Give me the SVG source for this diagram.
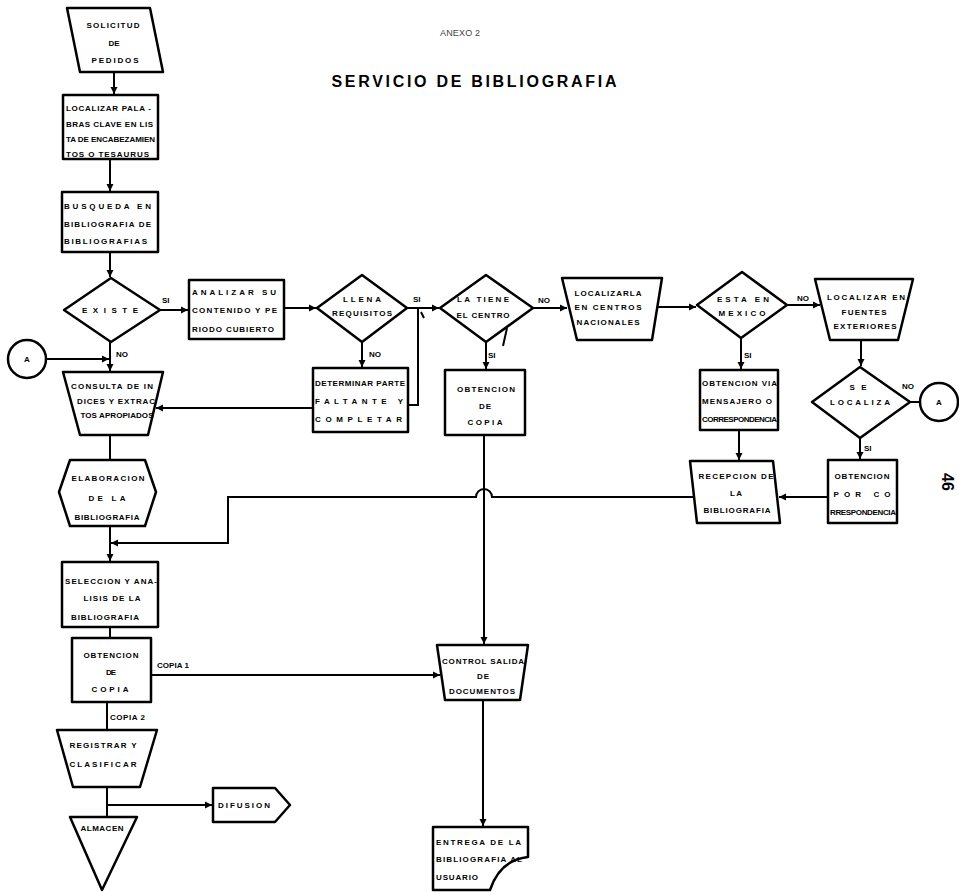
<svg xmlns="http://www.w3.org/2000/svg" width="959" height="892" viewBox="0 0 959 892">
<style>
.s{fill:#fff;stroke:#000;stroke-width:2.5;stroke-linejoin:round}
.c{fill:none;stroke:#000;stroke-width:2}
text{font-family:"Liberation Sans",Arial,sans-serif;font-weight:bold;font-size:8px;fill:#000}
.m{text-anchor:middle}
</style>
<defs>
<marker id="ar" markerWidth="8" markerHeight="8" refX="7" refY="4" orient="auto" markerUnits="userSpaceOnUse">
<path d="M0,0.5 L7,4 L0,7.5 Z" fill="#000"/>
</marker>
</defs>
<rect width="959" height="892" fill="#fff"/>
<text x="460" y="36" class="m" style="font-size:9px;font-weight:normal;fill:#444" textLength="40">ANEXO 2</text>
<text x="474" y="87" class="m" style="font-size:16px;font-weight:bold" textLength="285" lengthAdjust="spacing">SERVICIO DE BIBLIOGRAFIA</text>
<text x="0" y="0" class="m" transform="translate(942,482) rotate(90)" style="font-size:16px">46</text>

<g id="connectors">
<path class="c" d="M114,72 V94" marker-end="url(#ar)"/>
<path class="c" d="M110,160 V191" marker-end="url(#ar)"/>
<path class="c" d="M110,252 V277" marker-end="url(#ar)"/>
<path class="c" d="M160,310 H188" marker-end="url(#ar)"/>
<path class="c" d="M284,308 H316" marker-end="url(#ar)"/>
<path class="c" d="M407,308 H439" marker-end="url(#ar)"/>
<path class="c" d="M408,405 H418 V308"/>
<path class="c" d="M533,308 H567" marker-end="url(#ar)"/>
<path class="c" d="M657,307 H696" marker-end="url(#ar)"/>
<path class="c" d="M787,305 H820" marker-end="url(#ar)"/>
<path class="c" d="M861,340 V366" marker-end="url(#ar)"/>
<path class="c" d="M910,402 H920"/>
<path class="c" d="M860,438 V459" marker-end="url(#ar)"/>
<path class="c" d="M828,497 H779" marker-end="url(#ar)"/>
<path class="c" d="M694,497 H492 A8,8 0 0 0 476,497 H228 V543 H111" marker-end="url(#ar)"/>
<path class="c" d="M741,338 V369" marker-end="url(#ar)"/>
<path class="c" d="M739,430 V460" marker-end="url(#ar)"/>
<path class="c" d="M362,342 V367" marker-end="url(#ar)"/>
<path class="c" d="M486,342 V369" marker-end="url(#ar)"/>
<path class="c" d="M507,328 L503,346"/>
<path class="c" d="M421,312 L424,318"/>
<path class="c" d="M484,435 V644" marker-end="url(#ar)"/>
<path class="c" d="M46,359 H109" marker-end="url(#ar)"/>
<path class="c" d="M110,342 V371" marker-end="url(#ar)"/>
<path class="c" d="M313,408 H156" marker-end="url(#ar)"/>
<path class="c" d="M110,435 V460"/>
<path class="c" d="M110,525 V561" marker-end="url(#ar)"/>
<path class="c" d="M110,627 V638"/>
<path class="c" d="M151,675 H440" marker-end="url(#ar)"/>
<path class="c" d="M483,700 V826" marker-end="url(#ar)"/>
<path class="c" d="M107,702 V730"/>
<path class="c" d="M107,787 V817"/>
<path class="c" d="M107,805 H212" marker-end="url(#ar)"/>
<text x="162" y="303">SI</text>
<text x="413" y="302">SI</text>
<text x="369" y="357">NO</text>
<text x="538" y="303">NO</text>
<text x="488" y="358">SI</text>
<text x="797" y="301">NO</text>
<text x="744" y="358">SI</text>
<text x="902" y="389">NO</text>
<text x="864" y="451">SI</text>
<text x="116" y="357">NO</text>
<text x="157" y="668" textLength="32">COPIA 1</text>
<text x="110" y="720" textLength="35">COPIA 2</text>
</g>

<g id="solicitud">
<polygon class="s" points="67,8 150,8 163,72 80,72"/>
<text x="113" y="28" class="m" textLength="53">SOLICITUD</text>
<text x="114" y="46" class="m" textLength="11">DE</text>
<text x="115" y="63" class="m" textLength="47">PEDIDOS</text>
</g>
<g id="localizar">
<rect class="s" x="63" y="95" width="95" height="64"/>
<text x="66" y="111" textLength="85">LOCALIZAR PALA -</text>
<text x="66" y="127" textLength="87">BRAS CLAVE EN LIS</text>
<text x="66" y="142" textLength="89">TA DE ENCABEZAMIEN</text>
<text x="66" y="157" textLength="83">TOS O TESAURUS</text>
</g>
<g id="busqueda">
<rect class="s" x="62" y="192" width="96" height="60"/>
<text x="64" y="209" textLength="87">BUSQUEDA EN</text>
<text x="64" y="227" textLength="87">BIBLIOGRAFIA DE</text>
<text x="64" y="244" textLength="83">BIBLIOGRAFIAS</text>
</g>
<g id="existe">
<polygon class="s" points="111,278 160,310 111,342 64,310"/>
<text x="110" y="313" class="m" textLength="56">EXISTE</text>
</g>
<g id="analizar">
<rect class="s" x="189" y="280" width="95" height="59"/>
<text x="192" y="295" textLength="84">ANALIZAR SU</text>
<text x="192" y="313" textLength="85">CONTENIDO Y PE</text>
<text x="192" y="332" textLength="82">RIODO CUBIERTO</text>
</g>
<g id="llena">
<polygon class="s" points="362,275 407,308 362,342 317,308"/>
<text x="362" y="302" class="m" textLength="38">LLENA</text>
<text x="362" y="316" class="m" textLength="60">REQUISITOS</text>
</g>
<g id="latiene">
<polygon class="s" points="486,275 533,308 486,342 440,308"/>
<text x="483" y="302" class="m" textLength="52">LA TIENE</text>
<text x="483" y="318" class="m" textLength="53">EL CENTRO</text>
</g>
<g id="localizarla">
<polygon class="s" points="562,278 662,278 652,340 577,340"/>
<text x="608" y="296" class="m" textLength="67">LOCALIZARLA</text>
<text x="608" y="310" class="m" textLength="67">EN CENTROS</text>
<text x="608" y="325" class="m" textLength="63">NACIONALES</text>
</g>
<g id="mexico">
<polygon class="s" points="742,272 787,305 741,338 697,305"/>
<text x="743" y="302" class="m" textLength="52">ESTA EN</text>
<text x="742" y="316" class="m" textLength="47">MEXICO</text>
</g>
<g id="fuentes">
<polygon class="s" points="815,279 913,279 898,340 830,340"/>
<text x="866" y="300" class="m" textLength="78">LOCALIZAR EN</text>
<text x="864" y="315" class="m" textLength="45">FUENTES</text>
<text x="865" y="329" class="m" textLength="63">EXTERIORES</text>
</g>
<g id="selocaliza">
<polygon class="s" points="860,367 910,402 860,438 812,402"/>
<text x="858" y="390" class="m" textLength="17">SE</text>
<text x="860" y="405" class="m" textLength="60">LOCALIZA</text>
</g>
<g id="a2">
<circle class="s" cx="939" cy="402" r="19"/>
<text x="939" y="405" class="m">A</text>
</g>
<g id="obtencionvia">
<rect class="s" x="700" y="370" width="78" height="60"/>
<text x="702" y="386" textLength="75">OBTENCION VIA</text>
<text x="702" y="404" textLength="70">MENSAJERO O</text>
<text x="702" y="422" textLength="75">CORRESPONDENCIA</text>
</g>
<g id="recepcion">
<polygon class="s" points="690,461 773,461 780,523 697,523"/>
<text x="736" y="479" class="m" textLength="75">RECEPCION DE</text>
<text x="736" y="496" class="m" textLength="12">LA</text>
<text x="737" y="513" class="m" textLength="67">BIBLIOGRAFIA</text>
</g>
<g id="obtencionpor">
<rect class="s" x="828" y="460" width="69" height="63"/>
<text x="862" y="479" class="m" textLength="55">OBTENCION</text>
<text x="862" y="497" class="m" textLength="57">POR CO</text>
<text x="863" y="515" class="m" textLength="66">RRESPONDENCIA</text>
</g>
<g id="a1">
<circle class="s" cx="27" cy="359" r="19"/>
<text x="27" y="362" class="m">A</text>
</g>
<g id="consulta">
<polygon class="s" points="63,372 163,372 148,435 80,435"/>
<text x="112" y="389" class="m" textLength="82">CONSULTA DE IN</text>
<text x="116" y="404" class="m" textLength="78">DICES Y EXTRAC</text>
<text x="117" y="418" class="m" textLength="73">TOS APROPIADOS</text>
</g>
<g id="determinar">
<rect class="s" x="313" y="368" width="95" height="64"/>
<text x="315" y="386" textLength="90">DETERMINAR PARTE</text>
<text x="315" y="404" textLength="88">FALTANTE Y</text>
<text x="315" y="422" textLength="87">COMPLETAR</text>
</g>
<g id="obtencion1">
<rect class="s" x="445" y="370" width="80" height="65"/>
<text x="486" y="392" class="m" textLength="58">OBTENCION</text>
<text x="485" y="409" class="m" textLength="12">DE</text>
<text x="485" y="425" class="m" textLength="35">COPIA</text>
</g>
<g id="elaboracion">
<polygon class="s" points="70,460 145,460 156,492 145,526 70,526 59,492"/>
<text x="108" y="481" class="m" textLength="73">ELABORACION</text>
<text x="107" y="501" class="m" textLength="37">DE LA</text>
<text x="107" y="520" class="m" textLength="65">BIBLIOGRAFIA</text>
</g>
<g id="seleccion">
<rect class="s" x="62" y="562" width="96" height="65"/>
<text x="65" y="584" textLength="92">SELECCION Y ANA-</text>
<text x="112" y="601" class="m" textLength="57">LISIS DE LA</text>
<text x="105" y="620" class="m" textLength="68">BIBLIOGRAFIA</text>
</g>
<g id="obtencion2">
<rect class="s" x="72" y="638" width="79" height="64"/>
<text x="111" y="658" class="m" textLength="55">OBTENCION</text>
<text x="111" y="675" class="m" textLength="10">DE</text>
<text x="110" y="692" class="m" textLength="37">COPIA</text>
</g>
<g id="control">
<polygon class="s" points="437,645 528,645 520,700 445,700"/>
<text x="483" y="664" class="m" textLength="82">CONTROL SALIDA</text>
<text x="483" y="679" class="m" textLength="12">DE</text>
<text x="482" y="694" class="m" textLength="66">DOCUMENTOS</text>
</g>
<g id="entrega">
<path class="s" d="M433,827 H528 V857 Q500,860 490,890 H433 Z"/>
<text x="436" y="845" textLength="85">ENTREGA DE LA</text>
<text x="436" y="862" textLength="86">BIBLIOGRAFIA AL</text>
<text x="436" y="880" textLength="42">USUARIO</text>
</g>
<g id="registrar">
<polygon class="s" points="57,730 157,730 140,787 73,787"/>
<text x="103" y="748" class="m" textLength="67">REGISTRAR Y</text>
<text x="103" y="767" class="m" textLength="67">CLASIFICAR</text>
</g>
<g id="difusion">
<polygon class="s" points="213,788 275,788 290,805 275,822 213,822"/>
<text x="244" y="808" class="m" textLength="52">DIFUSION</text>
</g>
<g id="almacen">
<polygon class="s" points="70,817 137,817 102,890"/>
<text x="102" y="831" class="m" textLength="43">ALMACEN</text>
</g>
</svg>
